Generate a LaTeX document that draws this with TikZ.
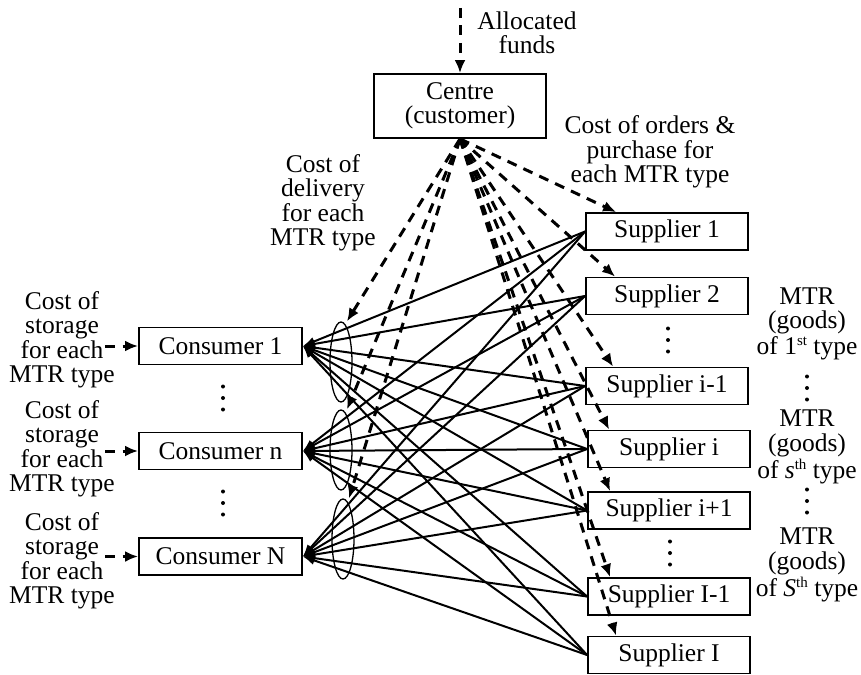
\documentclass[tikz,border=0pt]{standalone}
\usepackage{fontspec}
\setmainfont{Liberation Serif}
\usetikzlibrary{arrows.meta,shapes.geometric,calc}
\newcommand\mysup[1]{\raisebox{0.36em}{\fontsize{15}{15}\selectfont #1}}
\begin{document}
\begin{tikzpicture}[x=1pt,y=-1pt,
  every node/.style={font=\fontsize{25.5}{24.5}\selectfont},
  box/.style={draw,line width=1.8pt,minimum height=37pt,inner sep=0pt},
  supbox/.style={box,minimum width=162pt},
  conbox/.style={box,minimum width=163pt},
  lbl/.style={align=center,inner sep=0pt},
  flow/.style={line width=2pt,-{Latex[length=12pt,width=9pt]}},
  cost/.style={line width=3pt,dash pattern=on 10pt off 7.5pt,-{Latex[length=13pt,width=11pt]}},
  oval/.style={draw,ellipse,line width=1.3pt,minimum width=22pt,minimum height=80pt,inner sep=0pt},
]
\useasboundingbox (0,0) rectangle (861,674);

% centre
\node[box,minimum width=172pt,minimum height=64pt,align=center] (ctr) at (460,106) {Centre\\(customer)};
\coordinate (topin) at (460,8);
\draw[cost] (topin) -- (ctr.north);
\node[lbl] (alloc) at (527,33) {Allocated\\funds};

% suppliers
\node[supbox] (s1) at (667,231.5) {Supplier 1};
\node[supbox] (s2) at (667,296) {Supplier 2};
\node[supbox] (s3) at (667,386) {Supplier i-1};
\node[supbox] (s4) at (669,449) {Supplier i};
\node[supbox] (s5) at (669,510.5) {Supplier i+1};
\node[supbox] (s6) at (669,596.5) {Supplier I-1};
\node[supbox] (s7) at (669,655) {Supplier I};

% consumers
\node[conbox] (c1) at (220.5,346) {Consumer 1};
\node[conbox] (c2) at (220.5,451) {Consumer n};
\node[conbox] (c3) at (220.5,556.5) {Consumer N};

% ellipses
\node[oval] (e1) at (341,362) {};
\node[oval] (e2) at (341,450) {};
\node[oval] (e3) at (343,539) {};

% labels
\node[lbl] (del) at (323,203) {Cost of\\delivery\\for each\\MTR type};
\node[lbl] (ord) at (650,152) {Cost of orders \&\\purchase for\\each MTR type};
\node[lbl] (l1) at (62,340) {Cost of\\storage\\for each\\MTR type};
\node[lbl] (l2) at (62,449) {Cost of\\storage\\for each\\MTR type};
\node[lbl] (l3) at (62,561) {Cost of\\storage\\for each\\MTR type};
\node[lbl] (m1) at (807,324) {MTR\\(goods)\\[1.5pt]of 1\mysup{st} type};
\node[lbl] (m2) at (807,447) {MTR\\(goods)\\[1.5pt]of \textit{s}\mysup{th} type};
\node[lbl] (m3) at (807,565) {MTR\\(goods)\\[1.5pt]of \textit{S}\mysup{th} type};

% storage cost arrows
\coordinate (a1) at (105,346);
\coordinate (a2) at (105,451);
\coordinate (a3) at (105,556.5);
\draw[cost] (a1) -- (c1.west);
\draw[cost] (a2) -- (c2.west);
\draw[cost] (a3) -- (c3.west);

% flows supplier -> consumer
\foreach \i in {1,...,7}{
  \foreach \j in {1,2,3}{
    \draw[flow] (s\i.west) -- (c\j.east);
  }
}

% cost arrows from centre
\foreach \e in {e1,e2,e3}{
  \draw[cost] (ctr.south) -- ([xshift=6pt]\e.north);
}
\foreach \s/\d in {s1/31,s2/30,s3/28,s4/22,s5/23,s6/23,s7/29}{
  \draw[cost] (ctr.south) -- ([xshift=\d pt]\s.north west);
}

% vertical ellipses
\foreach \x/\y in {223/398,223/503,668/340,670/553,807/388,807/501}{
  \foreach \k in {-11.5,0,11.5}{
    \fill (\x,\y+\k) circle (2);
  }
}
\end{tikzpicture}
\end{document}
